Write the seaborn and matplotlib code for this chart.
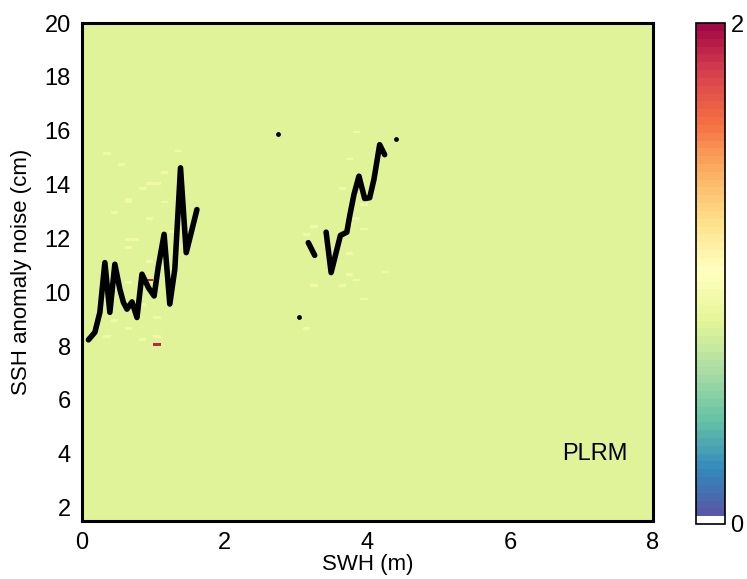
import numpy as np
import pandas as pd
import matplotlib
matplotlib.use("Agg")
import matplotlib.pyplot as plt
from matplotlib.colors import ListedColormap
import seaborn as sns

# noise curve (SWH in m, SSH anomaly noise in cm), three pieces with gaps
swh_a = [0.09, 0.18, 0.25, 0.32, 0.39, 0.46, 0.53, 0.58, 0.63, 0.70, 0.77,
         0.84, 0.93, 1.01, 1.07, 1.15, 1.23, 1.30, 1.38, 1.46, 1.61]
ssh_a = [8.23, 8.51, 9.25, 11.10, 9.25, 11.04, 10.11, 9.62, 9.37, 9.64, 9.06,
         10.67, 10.17, 9.86, 10.97, 12.15, 9.56, 10.85, 14.62, 11.47, 13.07]
swh_b = [3.17, 3.26]
ssh_b = [11.84, 11.37]
swh_c = [3.42, 3.49, 3.62, 3.71, 3.75, 3.81, 3.88, 3.96, 4.03, 4.09, 4.17, 4.24]
ssh_c = [12.23, 10.73, 12.11, 12.23, 12.83, 13.63, 14.31, 13.48, 13.51, 14.19, 15.48, 15.11]

# isolated points
dot_swh = [2.74, 3.04, 4.40]
dot_ssh = [15.89, 9.09, 15.70]

# 2D density field: uniform level plus a few paler / red cells
background_level = 0.8
pale_swh = [0.34, 0.56, 0.63, 0.65, 0.49, 0.91, 1.02, 1.16, 1.16, 0.86, 0.98, 0.63,
            0.79, 0.70, 0.91, 0.70, 0.81, 1.09, 0.70, 0.86, 1.02, 1.40, 1.28, 0.46,
            0.39, 3.87, 3.78, 3.64, 3.24, 3.19, 3.87, 3.94, 3.78, 3.71, 3.73, 3.87,
            3.64, 3.26, 3.94, 4.24, 3.19, 3.94]
pale_ssh = [15.2, 14.8, 13.5, 13.35, 12.95, 14.1, 14.1, 14.45, 13.35, 13.85, 12.75, 12.0,
            11.95, 11.65, 11.15, 10.35, 9.6, 9.05, 8.7, 8.3, 8.4, 15.3, 12.25, 8.95,
            8.4, 15.97, 14.93, 13.81, 12.46, 12.15, 12.73, 12.33, 12.52, 11.41, 10.67, 10.42,
            10.30, 10.30, 9.80, 10.73, 8.69, 13.26]
pale_level = 0.88
red_swh = [1.01, 0.93]
red_ssh = [8.1, 10.48]
red_level = 1.9

x_edges = np.arange(0, 8.05, 0.1)
y_edges = np.arange(1.5, 20.05, 0.1)
grid = np.full((len(y_edges) - 1, len(x_edges) - 1), background_level)
for xs, ys, lev in [(pale_swh, pale_ssh, pale_level), (red_swh, red_ssh, red_level)]:
    for xv, yv in zip(xs, ys):
        i = np.searchsorted(y_edges, yv) - 1
        j = np.searchsorted(x_edges, xv) - 1
        grid[i, j] = lev

curve = pd.DataFrame({
    "swh": swh_a + swh_b + swh_c,
    "ssh": ssh_a + ssh_b + ssh_c,
    "part": ["a"] * len(swh_a) + ["b"] * len(swh_b) + ["c"] * len(swh_c),
})
dots = pd.DataFrame({"swh": dot_swh, "ssh": dot_ssh})

sns.set_style("white")
plt.rcParams["font.family"] = ["Liberation Sans", "DejaVu Sans"]
plt.rcParams["text.color"] = "black"
plt.rcParams["axes.labelcolor"] = "black"
plt.rcParams["xtick.color"] = "black"
plt.rcParams["ytick.color"] = "black"

spec = sns.color_palette("Spectral_r", 63)
cmap = ListedColormap([(1, 1, 1)] + list(spec))

fig = plt.figure(figsize=(7.47, 5.79), dpi=100)
ax = fig.add_axes([0.1098, 0.1002, 0.7644, 0.860])
cax = fig.add_axes([0.9317, 0.095, 0.0388, 0.865])

mesh = ax.pcolormesh(x_edges, y_edges, grid, cmap=cmap, vmin=0, vmax=2)
sns.lineplot(data=curve, x="swh", y="ssh", units="part", estimator=None, sort=False,
             color="black", linewidth=4.0, ax=ax)
sns.scatterplot(data=dots, x="swh", y="ssh", color="black", s=12, linewidth=0, ax=ax)

ax.set_xlim(0, 8)
ax.set_ylim(1.5, 20)
ax.set_xticks([0, 2, 4, 6, 8])
ax.set_yticks(range(2, 21, 2))
ax.set_xlabel("SWH (m)", fontsize=16, labelpad=0)
ax.set_ylabel("SSH anomaly noise (cm)", fontsize=16, labelpad=9)
ax.tick_params(direction="in", length=4, width=2, labelsize=17, top=True, right=True)
ax.tick_params(axis="x", pad=8)
ax.tick_params(axis="y", pad=8)
for s in ax.spines.values():
    s.set_linewidth(2.2)
    s.set_color("black")
ax.text(7.18, 4.0, "PLRM", fontsize=17, ha="center", va="center")

cb = fig.colorbar(mesh, cax=cax, ticks=[0, 2])
cb.ax.tick_params(length=0, labelsize=17, pad=4)
cb.outline.set_linewidth(1.2)
cb.outline.set_edgecolor("black")

fig.savefig("out.png", dpi=100)
